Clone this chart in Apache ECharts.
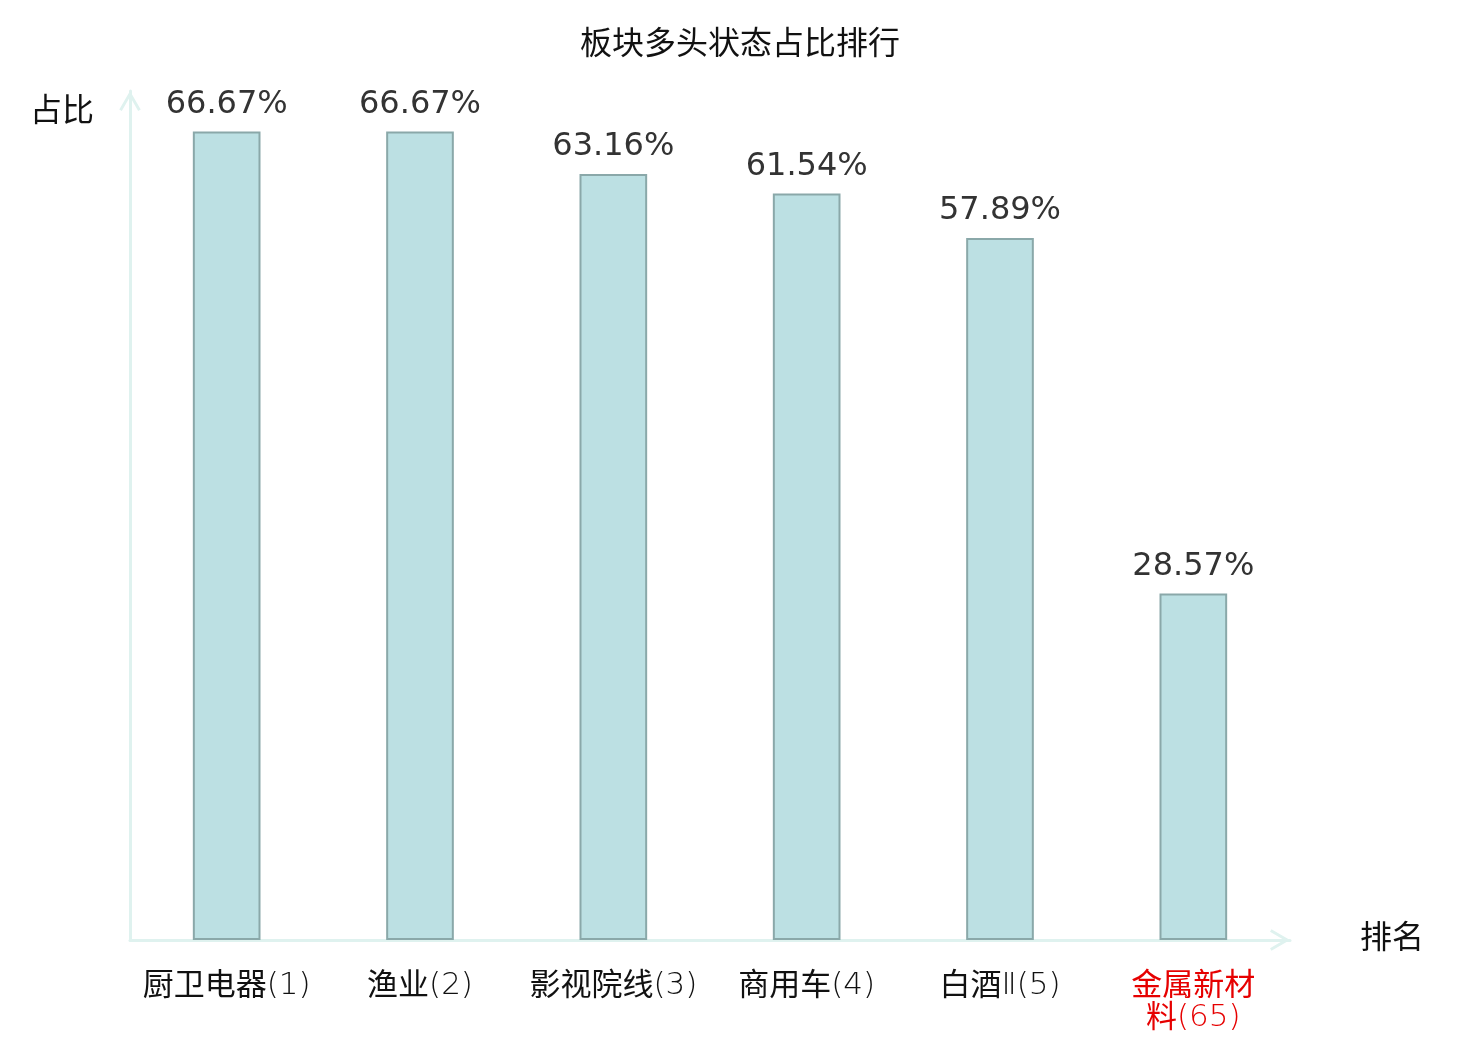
<!DOCTYPE html>
<html><head><meta charset="utf-8">
<script src="https://cdn.jsdelivr.net/npm/echarts@6/dist/echarts.min.js"></script>
<style>html,body{margin:0;padding:0;background:#fff}#c{width:1480px;height:1040px}</style>
</head><body><div id="c"></div>
<script>
var categories = ['厨卫电器(1)', '渔业(2)', '影视院线(3)', '商用车(4)', '白酒Ⅱ(5)', '金属新材\n料(65)'];
var values = [66.67, 66.67, 63.16, 61.54, 57.89, 28.57];
var highlightIndex = 5;

var FONT = "'DejaVu Sans', 'Noto Sans CJK SC', sans-serif";
var CJK = "'Noto Sans CJK SC', sans-serif";
var LAT = "'DejaVu Sans', sans-serif";
var CHEVRON = 'path://M0,19 L11,0 L22,19 L19.4,20.5 L11,6 L2.6,20.5 Z';

function richLabel(v, i) {
  var red = i === highlightIndex;
  var out = '', cur = '', curType = null;
  function flush() {
    if (cur) out += '{' + curType + (red ? 'r' : '') + '|' + cur + '}';
    cur = '';
  }
  for (var k = 0; k < v.length; k++) {
    var ch = v[k];
    var t = (/[\u4e00-\u9fff\n]/.test(ch)) ? 'c' : 'l';
    if (t !== curType) { flush(); curType = t; }
    cur += ch;
  }
  flush();
  return out;
}

var chart = echarts.init(document.getElementById('c'));
chart.setOption({
  animation: false,
  title: {
    text: '板块多头状态占比排行', left: 'center', top: 25,
    textStyle: { fontFamily: FONT, fontSize: 32, fontWeight: 'normal', color: '#111' }
  },
  grid: { left: 130, right: 190, top: 91, bottom: 100 },
  xAxis: {
    type: 'category', data: categories,
    name: '排名', nameGap: 70, nameLocation: 'end',
    nameTextStyle: { fontFamily: FONT, fontSize: 32, color: '#111', verticalAlign: 'middle', padding: [16, 0, 0, 0] },
    axisLine: { lineStyle: { color: '#dff2ef', width: 3 }, symbol: ['none', CHEVRON], symbolSize: [22, 20], symbolOffset: [0, -10] },
    axisTick: { show: false },
    axisLabel: {
      interval: 0, margin: 27, lineHeight: 32,
      fontFamily: CJK, fontSize: 31, color: '#111',
      formatter: richLabel,
      rich: {
        c: { fontFamily: CJK, fontSize: 31, lineHeight: 32, color: '#111' },
        l: { fontFamily: LAT, fontSize: 31, fontWeight: 200, lineHeight: 32, padding: [5, 0, 0, 0], color: '#111' },
        cr: { fontFamily: CJK, fontSize: 31, lineHeight: 32, color: '#e60000' },
        lr: { fontFamily: LAT, fontSize: 31, fontWeight: 200, lineHeight: 32, padding: [5, 0, 0, 0], color: '#e60000' }
      }
    }
  },
  yAxis: {
    type: 'value', min: 0, max: 70,
    name: '占比', nameLocation: 'end', nameGap: 0,
    nameTextStyle: { fontFamily: FONT, fontSize: 32, color: '#111', align: 'right', padding: [0, 36, -38, 0] },
    axisLine: { show: true, lineStyle: { color: '#dff2ef', width: 3 }, symbol: ['none', CHEVRON], symbolSize: [22, 20], symbolOffset: [0, -10] },
    axisTick: { show: false }, axisLabel: { show: false }, splitLine: { show: false }
  },
  series: [{
    type: 'bar', data: values, barWidth: '35%',
    itemStyle: { color: '#bce0e3', borderColor: '#8aa8a9', borderWidth: 2 },
    label: {
      show: true, position: 'top', distance: 11,
      fontFamily: FONT, fontSize: 32, color: '#333',
      formatter: function (p) { return p.value.toFixed(2) + '%'; }
    }
  }]
});
</script></body></html>
